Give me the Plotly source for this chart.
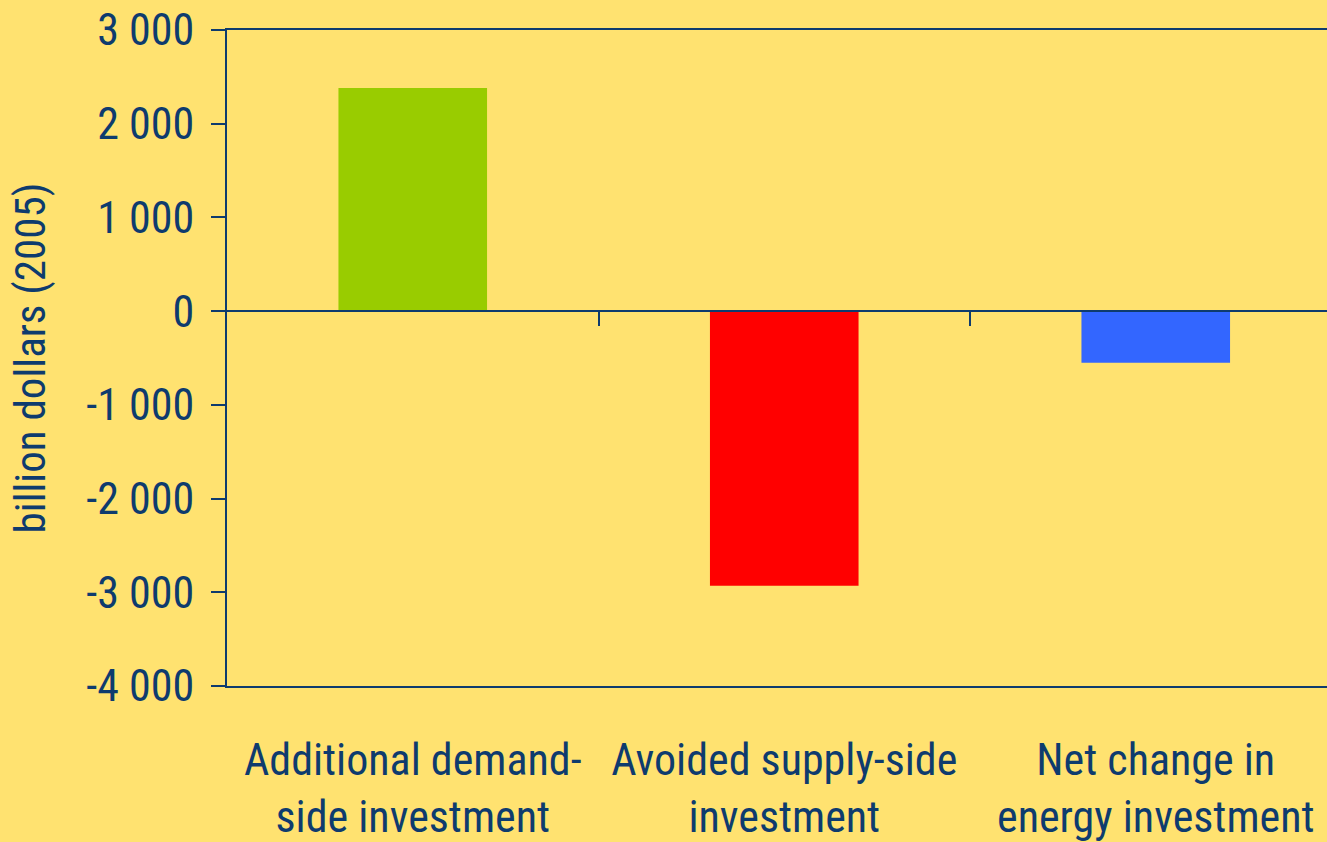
import plotly.graph_objects as go

categories = ["Additional demand-<br>side investment", "Avoided supply-side<br>investment", "Net change in<br>energy investment"]
values = [2380, -2930, -550]
bar_colors = ["#99CC00", "#FF0000", "#3366FF"]
y_tickvals = [3000, 2000, 1000, 0, -1000, -2000, -3000, -4000]
y_ticktext = ["3 000", "2 000", "1 000", "0", "-1 000", "-2 000", "-3 000", "-4 000"]

BG = "#FFE270"
INK = "#0E3B6E"
FONT = "Liberation Sans Narrow, Arial Narrow, Roboto Condensed, DejaVu Sans Condensed, sans-serif"

fig = go.Figure()
fig.add_trace(go.Bar(x=list(range(len(categories))), y=values, marker=dict(color=bar_colors, line=dict(width=0)),
                     width=0.4, showlegend=False, hoverinfo="skip"))
fig.add_trace(go.Scatter(x=[0, 1, 2], y=[None, None, None], xaxis="x2", mode="markers", showlegend=False))

xr = [-0.5, -0.5 + 1100 / 371.5]
fig.update_layout(
    width=1327, height=842,
    paper_bgcolor=BG, plot_bgcolor=BG,
    margin=dict(l=227, r=0, t=30, b=156),
    font=dict(family=FONT, color=INK, size=44),
    xaxis=dict(range=xr, tickmode="array", tickvals=[0, 1, 2], ticktext=categories,
               showline=True, linecolor=INK, linewidth=2, mirror=True, ticks="",
               showgrid=False, zeroline=False, tickfont=dict(size=44), ticklabelstandoff=34),
    xaxis2=dict(range=xr, overlaying="x", anchor="free", position=4/7, side="bottom",
                showline=True, linecolor=INK, linewidth=2, ticks="outside", ticklen=14,
                tickwidth=2, tickcolor=INK, tickmode="array", tickvals=[0.5, 1.5],
                showticklabels=False, showgrid=False, zeroline=False),
    yaxis=dict(range=[-4000, 3000], tickmode="array", tickvals=y_tickvals, ticktext=y_ticktext,
               showline=True, linecolor=INK, linewidth=2, ticks="outside", ticklen=14,
               tickwidth=2, tickcolor=INK, showgrid=False, zeroline=False,
               tickfont=dict(size=44), ticklabelstandoff=8,
               title=dict(text="billion dollars (2005)", font=dict(size=43), standoff=27)),
)
fig.write_html("out.html", config={"displayModeBar": False},
               post_script="document.body.style.margin='0';")
